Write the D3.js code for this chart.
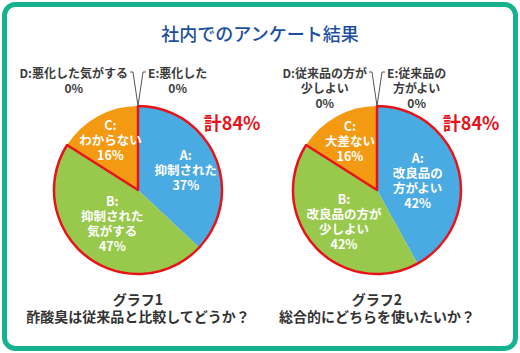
<!DOCTYPE html>
<html>
<head>
<meta charset="utf-8">
<script src="https://cdn.jsdelivr.net/npm/d3@7"></script>
<style>
  body { margin: 0; background: #fff; }
  svg text { font-family: "Noto Sans CJK JP", "Noto Sans", sans-serif; }
</style>
</head>
<body>
<div id="chart"></div>
<script>
// survey data
var categories = ["A", "B", "C", "D", "E"];

var graph1Values = [37, 47, 16, 0, 0];
var graph1Names = [["抑制された"], ["抑制された", "気がする"], ["わからない"], ["悪化した気がする"], ["悪化した"]];
var graph1Caption = ["グラフ1", "酢酸臭は従来品と比較してどうか？"];

var graph2Values = [42, 42, 16, 0, 0];
var graph2Names = [["改良品の", "方がよい"], ["改良品の方が", "少しよい"], ["大差ない"], ["従来品の方が", "少しよい"], ["従来品の", "方がよい"]];
var graph2Caption = ["グラフ2", "総合的にどちらを使いたいか？"];

var title = "社内でのアンケート結果";

var svgWidth = 520;
var svgHeight = 353;
var radius = 84;
var colors = ["#4aaae2", "#98c94c", "#f39a12", "#cccccc", "#cccccc"];

var svg = d3.select("#chart")
  .append("svg")
  .attr("width", svgWidth)
  .attr("height", svgHeight);

// frame
svg.append("rect")
  .attr("x", 4.5)
  .attr("y", 4.5)
  .attr("width", svgWidth - 9)
  .attr("height", svgHeight - 9)
  .attr("rx", 11)
  .attr("fill", "#fff")
  .attr("stroke", "#15b290")
  .attr("stroke-width", 5);

svg.append("text")
  .attr("x", svgWidth / 2)
  .attr("y", 33)
  .attr("text-anchor", "middle")
  .attr("dominant-baseline", "central")
  .attr("font-size", 18)
  .attr("font-weight", "500")
  .attr("fill", "#1c4f9f")
  .text(title);

var pie = d3.pie().sort(null).value(d => d);
var arc = d3.arc().innerRadius(0).outerRadius(radius);

function drawPie(cx, cy, values, names, caption, labelR) {
  var g = svg.append("g").attr("transform", `translate(${cx}, ${cy})`);
  var arcs = pie(values);

  g.selectAll("path.slice")
    .data(arcs)
    .enter()
    .append("path")
    .attr("class", "slice")
    .attr("d", arc)
    .attr("fill", (d, i) => colors[i]);

  // red outline around A + B
  var total = values[0] + values[1];
  g.append("path")
    .attr("d", arc({ startAngle: arcs[0].startAngle, endAngle: arcs[1].endAngle }))
    .attr("fill", "none")
    .attr("stroke", "#e8121a")
    .attr("stroke-width", 2.5)
    .attr("stroke-linejoin", "round");

  g.append("text")
    .attr("x", radius * 1.12)
    .attr("y", -radius * 0.81)
    .attr("text-anchor", "middle")
    .attr("dominant-baseline", "central")
    .attr("font-size", 18)
    .attr("font-weight", "bold")
    .attr("fill", "#e8121a")
    .text("計" + total + "%");

  // inside labels
  arcs.slice(0, 3).forEach(function(d, i) {
    var a = (d.startAngle + d.endAngle) / 2;
    var r = radius * labelR[i];
    var x = Math.sin(a) * r;
    var y = -Math.cos(a) * r;
    var lines = [categories[i] + ":"].concat(names[i], [values[i] + "%"]);
    var t = g.append("text")
      .attr("text-anchor", "middle")
      .attr("font-size", 12.5)
      .attr("font-weight", "bold")
      .attr("fill", "#fff");
    lines.forEach(function(s, k) {
      t.append("tspan")
        .attr("x", x)
        .attr("y", y + (k - (lines.length - 1) / 2) * 15)
        .attr("dominant-baseline", "central")
        .text(s);
    });
  });

  // zero slices D and E above the pie with leaders
  var topY = -radius;
  var labelY = 72 - cy;
  [3, 4].forEach(function(i) {
    var side = i === 3 ? -1 : 1;
    var lines = [categories[i] + ":" + names[i][0]].concat(names[i].slice(1), [values[i] + "%"]);
    var first = g.append("text")
      .attr("x", side * 10)
      .attr("y", labelY)
      .attr("text-anchor", side < 0 ? "end" : "start")
      .attr("dominant-baseline", "central")
      .attr("font-size", 12)
      .attr("font-weight", "bold")
      .attr("fill", "#3c3c3c")
      .text(lines[0]);
    var w = first.node().getComputedTextLength();
    var mid = side * (10 + w / 2);
    lines.slice(1).forEach(function(s, k) {
      g.append("text")
        .attr("x", mid)
        .attr("y", labelY + (k + 1) * 15)
        .attr("text-anchor", "middle")
        .attr("dominant-baseline", "central")
        .attr("font-size", 12)
        .attr("font-weight", "bold")
        .attr("fill", "#3c3c3c")
        .text(s);
    });
    g.append("path")
      .attr("d", `M${side * 8},${labelY} L${side * 5},${labelY} L0,${topY}`)
      .attr("fill", "none")
      .attr("stroke", "#555")
      .attr("stroke-width", 1);
  });

  caption.forEach(function(s, k) {
    svg.append("text")
      .attr("x", cx)
      .attr("y", 299 + k * 17)
      .attr("text-anchor", "middle")
      .attr("dominant-baseline", "central")
      .attr("font-size", 14)
      .attr("font-weight", "bold")
      .attr("fill", "#333")
      .text(s);
  });
}

drawPie(138, 190, graph1Values, graph1Names, graph1Caption, [0.62, 0.5, 0.68]);
drawPie(377, 190, graph2Values, graph2Names, graph2Caption, [0.5, 0.54, 0.67]);
</script>
</body>
</html>
